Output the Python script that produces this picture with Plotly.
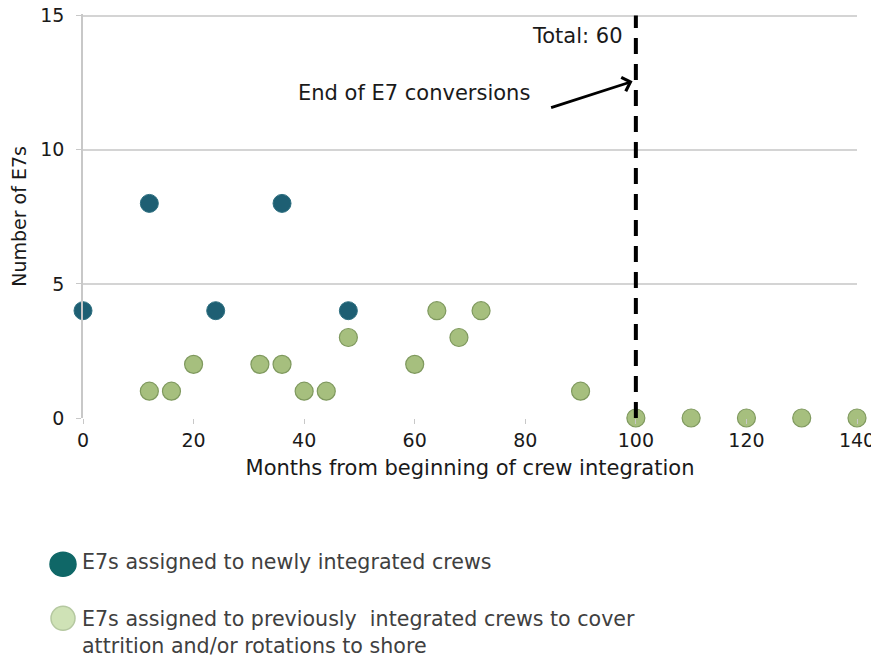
import plotly.graph_objects as go

# ---- data ----
new_x = [0, 12, 24, 36, 48]
new_y = [4, 8, 4, 8, 4]
prev_x = [12, 16, 20, 32, 36, 40, 44, 48, 60, 64, 68, 72, 90, 100, 110, 120, 130, 140]
prev_y = [1, 1, 2, 2, 2, 1, 1, 3, 2, 4, 3, 4, 1, 0, 0, 0, 0, 0]
x_ticks = [0, 20, 40, 60, 80, 100, 120, 140]
y_ticks = [0, 5, 10, 15]
end_month = 100
legend_labels = ["E7s assigned to newly integrated crews",
                 "E7s assigned to previously  integrated crews to cover<br>attrition and/or rotations to shore"]

FONT = "'DejaVu Sans', sans-serif"
OFF = 8  # page body margin
W, H = 879 - OFF, 658 - OFF
YMAX = 15.06  # tiny headroom so the gridline at 15 is drawn
ph = 402 * YMAX / 15
L, R, B = 83 - OFF, 22, 240
T = H - B - ph
pw = W - L - R

def px(x):  # page pixel -> paper
    return (x - OFF - L) / pw

def py(y):
    return (H - B - (y - OFF)) / ph

fig = go.Figure()
fig.add_trace(go.Scatter(
    x=prev_x, y=prev_y, mode="markers", cliponaxis=False, showlegend=False,
    marker=dict(size=18, color="#a6bf7e", line=dict(color="#7f995e", width=1.2)),
))
fig.add_trace(go.Scatter(
    x=new_x, y=new_y, mode="markers", cliponaxis=False, showlegend=False,
    marker=dict(size=18, color="#1e5f73", line=dict(color="#2d6f80", width=1)),
))

# dashed vertical line
fig.add_shape(type="line", x0=end_month, x1=end_month, y0=0, y1=15, xref="x", yref="y",
              line=dict(color="black", width=4, dash="16px,10px"))

fig.add_annotation(x=98, y=14.25, xref="x", yref="y", text="Total: 60", showarrow=False,
                   xanchor="right", font=dict(family=FONT, size=21, color="#1a1a1a"))
fig.add_annotation(x=59.9, y=12.13, xref="x", yref="y", text="End of E7 conversions",
                   showarrow=False, font=dict(family=FONT, size=21, color="#1a1a1a"))
fig.add_annotation(x=99.4, y=12.55, ax=84.4, ay=11.55, xref="x", yref="y", axref="x", ayref="y",
                   text="", showarrow=True, arrowhead=4, arrowsize=1, arrowwidth=2.8,
                   arrowcolor="black")

# y-axis title
fig.add_annotation(x=px(19), y=py(217), xref="paper", yref="paper", text="Number of E7s",
                   textangle=-90, showarrow=False, xanchor="center", yanchor="middle",
                   font=dict(family=FONT, size=19, color="#1a1a1a"))

# custom legend
leg = [(63, 564, 26, 24, "#0f6767", "#0f6767"), (63, 618, 24, 24, "#cfe2b6", "#b5c8a0")]
for (cx, cy, w, h, fc, lc), lab, ty in zip(leg, legend_labels, [562, 632]):
    fig.add_shape(type="circle", xref="paper", yref="paper", xsizemode="pixel", ysizemode="pixel",
                  xanchor=px(cx), yanchor=py(cy), x0=-w / 2, x1=w / 2, y0=-h / 2, y1=h / 2,
                  fillcolor=fc, line=dict(color=lc, width=1.5))
    fig.add_annotation(x=px(80), y=py(ty), xref="paper", yref="paper", text=lab, showarrow=False,
                       xanchor="left", yanchor="middle", align="left",
                       font=dict(family=FONT, size=20.6, color="#404040"))

fig.update_layout(
    width=W, height=H, margin=dict(l=L, r=R, t=T, b=B),
    paper_bgcolor="white", plot_bgcolor="white",
    font=dict(family=FONT, size=19, color="#1a1a1a"),
    xaxis=dict(range=[0, 140], tickvals=x_ticks, showgrid=False, zeroline=False, automargin=False,
               showline=False, ticks="outside", ticklen=5, tickcolor="#c8c8c8",
               tickfont=dict(size=19), ticklabeloverflow="allow",
               title=dict(text="Months from beginning of crew integration", standoff=10,
                          font=dict(size=21))),
    yaxis=dict(range=[0, YMAX], tickvals=y_ticks, showgrid=True, gridcolor="#d4d4d4", gridwidth=1.5,
               zeroline=False, showline=True, linecolor="#c8c8c8", linewidth=1.5, automargin=False,
               ticks="outside", ticklen=5, tickcolor="#c8c8c8", ticklabelstandoff=8,
               tickfont=dict(size=19), ticklabeloverflow="allow"),
)

fig.write_html("out.html")
